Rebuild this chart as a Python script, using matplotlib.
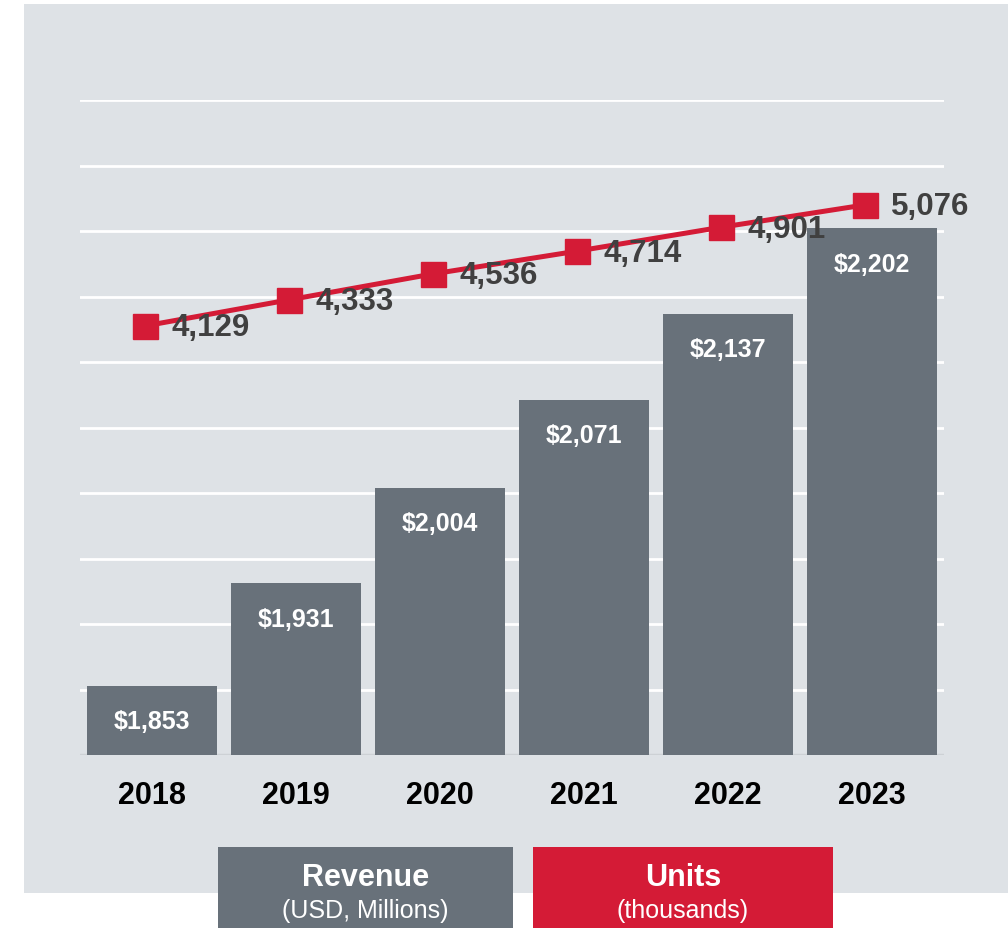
import matplotlib
matplotlib.use("Agg")
import matplotlib.pyplot as plt
import matplotlib.patches as patches

plt.rcParams["font.family"] = ["Liberation Sans", "DejaVu Sans"]

# -----------------------------
# Data
# -----------------------------
years = ["2018", "2019", "2020", "2021", "2022", "2023"]
revenue = [1853, 1931, 2004, 2071, 2137, 2202]   # USD, millions
units = [4129, 4333, 4536, 4714, 4901, 5076]     # thousands

# -----------------------------
# Colours
# -----------------------------
panel_bg = "#dee2e6"
bar_color = "#68717a"
red = "#d41b36"
label_dark = "#404040"

W, H = 1008, 929
fig = plt.figure(figsize=(W / 100, H / 100), dpi=100)
fig.patch.set_facecolor("white")

# grey panel behind the chart
fig.add_artist(patches.Rectangle(
    (24 / W, (H - 894) / H), 984 / W, 889 / H,
    transform=fig.transFigure, facecolor=panel_bg, edgecolor="none", zorder=0,
))

# axes box in pixel terms: x 80..944, y 101..756
ax = fig.add_axes([80 / W, (H - 756) / H, 864 / W, 655 / H])
ax.set_facecolor("none")

x = list(range(len(years)))

# -----------------------------
# Revenue bars
# -----------------------------
ax.set_ylim(1800, 2300)
ax.set_xlim(-0.5, len(years) - 0.5)
for gy in range(1850, 2301, 50):
    ax.axhline(gy, color="white", lw=2, zorder=1)
ax.axhline(1800, color="#cdd1d5", lw=2.5, zorder=1)

bars = ax.bar(x, revenue, width=0.9, color=bar_color, zorder=2)
for xi, v in zip(x, revenue):
    ax.annotate(f"${v:,}", xy=(xi, v), xytext=(0, -25.5), textcoords="offset points",
                ha="center", va="center", color="white", fontsize=18,
                fontweight="bold", zorder=5)

ax.set_xticks(x)
ax.set_xticklabels(years, fontsize=22, fontweight="bold", color="black")
ax.tick_params(axis="x", length=0, pad=18)
ax.set_yticks([])
for s in ax.spines.values():
    s.set_visible(False)

# -----------------------------
# Units line (secondary scale)
# -----------------------------
ax2 = ax.twinx()
ax2.set_ylim(772, 5897)
ax2.set_yticks([])
for s in ax2.spines.values():
    s.set_visible(False)

xl = [xi - 0.05 for xi in x]
ax2.plot(xl, units, color=red, lw=3.6, marker="s", markersize=18,
         markerfacecolor=red, markeredgecolor=red, zorder=4)
for xi, v in zip(xl, units):
    ax2.annotate(f"{v:,}", xy=(xi, v), xytext=(19, -1), textcoords="offset points",
                 ha="left", va="center", color=label_dark, fontsize=22.5,
                 fontweight="bold", zorder=6)

# -----------------------------
# Legend boxes
# -----------------------------
def legend_box(x0, x1, color, title, sub):
    fig.add_artist(patches.Rectangle(
        (x0 / W, 0), (x1 - x0) / W, (H - 848) / H,
        transform=fig.transFigure, facecolor=color, edgecolor="none", zorder=3,
    ))
    cx = (x0 + x1) / 2 / W
    fig.text(cx, (H - 878) / H, title, ha="center", va="center", color="white",
             fontsize=22, fontweight="bold", zorder=4)
    fig.text(cx, (H - 911) / H, sub, ha="center", va="center", color="white",
             fontsize=18, zorder=4)

legend_box(218, 513, bar_color, "Revenue", "(USD, Millions)")
legend_box(533, 833, red, "Units", "(thousands)")

fig.savefig("out.png", dpi=100)
